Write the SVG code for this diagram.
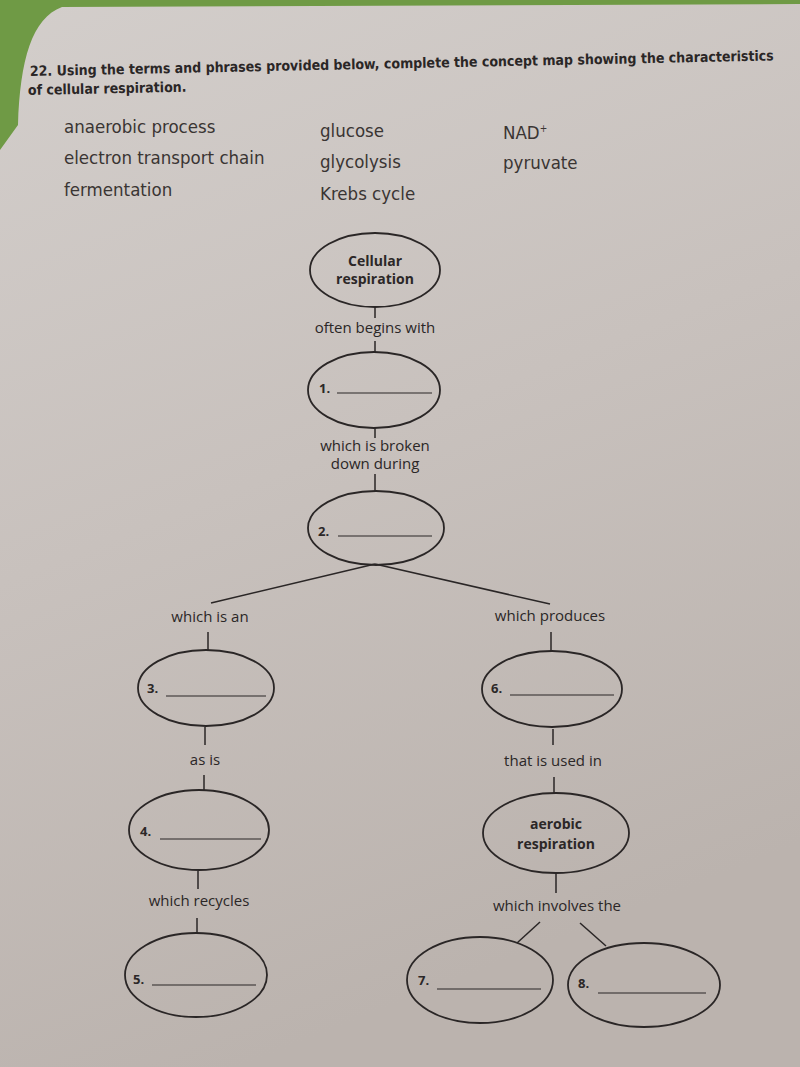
<svg xmlns="http://www.w3.org/2000/svg" width="800" height="1067" viewBox="0 0 800 1067">
<defs>
<linearGradient id="paper" x1="0" y1="0" x2="0.3" y2="1">
<stop offset="0" stop-color="#d3cecb"/>
<stop offset="0.5" stop-color="#c8c1bd"/>
<stop offset="1" stop-color="#bbb3ae"/>
</linearGradient>
<style>
.n{fill:none;stroke:#2a2626;stroke-width:1.8}
.c{fill:none;stroke:#2a2626;stroke-width:1.5}
.b{stroke:#2a2626;stroke-width:1.2}
.t{font-family:"Open Sans","Noto Sans",sans-serif;font-size:15px;fill:#2b2727;text-anchor:middle}
.h{font-family:"Open Sans","Noto Sans",sans-serif;font-size:14px;font-weight:bold;fill:#2b2727;text-anchor:middle}
.num{font-family:"Open Sans","Noto Sans",sans-serif;font-size:13px;font-weight:bold;fill:#2b2727}
.w{font-family:"DejaVu Sans Condensed","DejaVu Sans",sans-serif;font-size:18.5px;fill:#3a3533}
.q{font-family:"DejaVu Sans Condensed","DejaVu Sans",sans-serif;font-size:14px;font-weight:bold;fill:#2a2626}
</style>
</defs>
<rect width="800" height="1067" fill="#6f9a45"/>
<path d="M18,125 C20,60 32,18 62,7 L800,4 L800,1067 L0,1067 L0,150 Z" fill="url(#paper)"/>
<g id="header">
<text class="q" x="30" y="76" transform="rotate(-1.2 30 76)">22. Using the terms and phrases provided below, complete the concept map showing the characteristics</text>
<text class="q" x="28" y="95" transform="rotate(-1.2 28 95)">of cellular respiration.</text>
</g>
<g id="wordbank">
<text class="w" x="64" y="133">anaerobic process</text>
<text class="w" x="64" y="164">electron transport chain</text>
<text class="w" x="64" y="196">fermentation</text>
<text class="w" x="320" y="137">glucose</text>
<text class="w" x="320" y="168">glycolysis</text>
<text class="w" x="320" y="200">Krebs cycle</text>
<text class="w" x="503" y="139">NAD<tspan font-size="10" dy="-7">+</tspan></text>
<text class="w" x="503" y="169">pyruvate</text>
</g>
<g id="connectors">
<line class="c" x1="375" y1="307" x2="375" y2="318"/>
<line class="c" x1="375" y1="341" x2="375" y2="352"/>
<line class="c" x1="375" y1="428" x2="375" y2="438"/>
<line class="c" x1="375" y1="474" x2="375" y2="491"/>
<line class="c" x1="375" y1="564" x2="211" y2="603"/>
<line class="c" x1="375" y1="564" x2="550" y2="604"/>
<line class="c" x1="208" y1="632" x2="208" y2="650"/>
<line class="c" x1="205" y1="727" x2="205" y2="745"/>
<line class="c" x1="204" y1="775" x2="204" y2="791"/>
<line class="c" x1="198" y1="871" x2="198" y2="889"/>
<line class="c" x1="197" y1="918" x2="197" y2="933"/>
<line class="c" x1="551" y1="632" x2="551" y2="651"/>
<line class="c" x1="553" y1="729" x2="553" y2="745"/>
<line class="c" x1="554" y1="777" x2="554" y2="793"/>
<line class="c" x1="556" y1="873" x2="556" y2="893"/>
<line class="c" x1="540" y1="922" x2="517" y2="943"/>
<line class="c" x1="580" y1="923" x2="606" y2="946"/>
</g>
<g id="labels">
<text class="t" x="375" y="333">often begins with</text>
<text class="t" x="375" y="451">which is broken</text>
<text class="t" x="375" y="469">down during</text>
<text class="t" x="210" y="622">which is an</text>
<text class="t" x="550" y="621">which produces</text>
<text class="t" x="205" y="765">as is</text>
<text class="t" x="553" y="766">that is used in</text>
<text class="t" x="199" y="906">which recycles</text>
<text class="t" x="557" y="911">which involves the</text>
</g>
<g id="node-cellular">
<ellipse class="n" cx="375" cy="270" rx="65" ry="37"/>
<text class="h" x="375" y="266">Cellular</text>
<text class="h" x="375" y="284">respiration</text>
</g>
<g id="node-1">
<ellipse class="n" cx="374" cy="390" rx="66" ry="38"/>
<text class="num" x="319" y="393">1.</text>
<line class="b" x1="337" y1="393" x2="432" y2="393"/>
</g>
<g id="node-2">
<ellipse class="n" cx="376" cy="528" rx="68" ry="37"/>
<text class="num" x="318" y="536">2.</text>
<line class="b" x1="338" y1="536" x2="432" y2="536"/>
</g>
<g id="node-3">
<ellipse class="n" cx="206" cy="688" rx="68" ry="38"/>
<text class="num" x="147" y="693">3.</text>
<line class="b" x1="166" y1="696" x2="266" y2="696"/>
</g>
<g id="node-4">
<ellipse class="n" cx="199" cy="830" rx="70" ry="40"/>
<text class="num" x="140" y="836">4.</text>
<line class="b" x1="160" y1="839" x2="261" y2="839"/>
</g>
<g id="node-5">
<ellipse class="n" cx="196" cy="975" rx="71" ry="42"/>
<text class="num" x="133" y="984">5.</text>
<line class="b" x1="152" y1="985" x2="256" y2="985"/>
</g>
<g id="node-6">
<ellipse class="n" cx="552" cy="689" rx="70" ry="38"/>
<text class="num" x="491" y="693">6.</text>
<line class="b" x1="510" y1="695" x2="614" y2="695"/>
</g>
<g id="node-aerobic">
<ellipse class="n" cx="556" cy="833" rx="73" ry="40"/>
<text class="h" x="556" y="829" font-size="15">aerobic</text>
<text class="h" x="556" y="849" font-size="15">respiration</text>
</g>
<g id="node-7">
<ellipse class="n" cx="480" cy="980" rx="73" ry="43"/>
<text class="num" x="418" y="985">7.</text>
<line class="b" x1="437" y1="989" x2="541" y2="989"/>
</g>
<g id="node-8">
<ellipse class="n" cx="644" cy="985" rx="76" ry="42"/>
<text class="num" x="578" y="988">8.</text>
<line class="b" x1="598" y1="993" x2="706" y2="993"/>
</g>
</svg>
